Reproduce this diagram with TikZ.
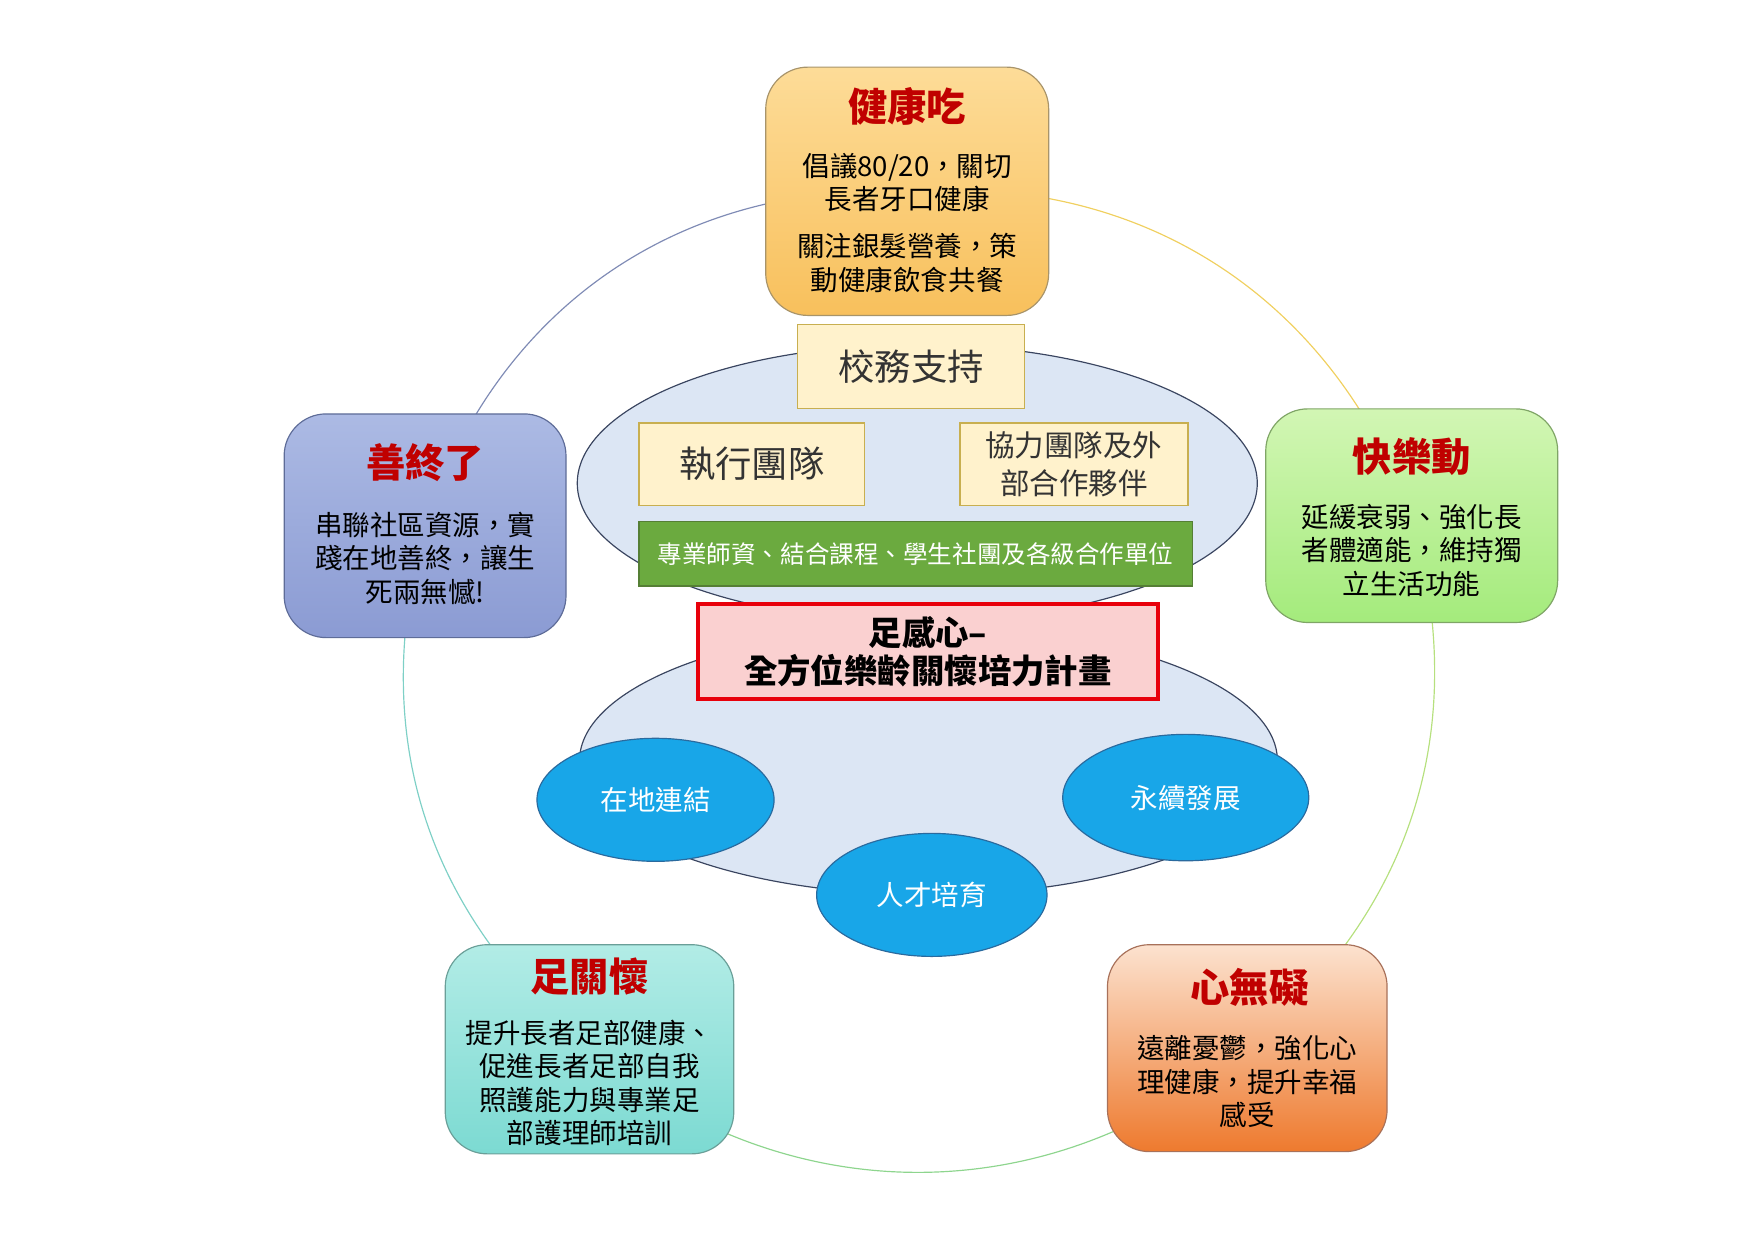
\documentclass[tikz,border=0pt]{standalone}
\usepackage{fontspec}
\setmainfont{Noto Sans CJK TC}
\usetikzlibrary{shapes.geometric,backgrounds}
\definecolor{titleRed}{HTML}{C00000}
\definecolor{eatTop}{HTML}{FDDC98}
\definecolor{eatBottom}{HTML}{F8C05C}
\definecolor{eatEdge}{HTML}{A8946A}
\definecolor{moveTop}{HTML}{D2F6B4}
\definecolor{moveBottom}{HTML}{A4EB7C}
\definecolor{moveEdge}{HTML}{7FA566}
\definecolor{farewellTop}{HTML}{ACBAE4}
\definecolor{farewellBottom}{HTML}{8B9BD3}
\definecolor{farewellEdge}{HTML}{5E6C98}
\definecolor{footTop}{HTML}{B2ECE6}
\definecolor{footBottom}{HTML}{7CDAD2}
\definecolor{footEdge}{HTML}{6A9F98}
\definecolor{mindTop}{HTML}{FCE2CF}
\definecolor{mindBottom}{HTML}{EE7A2E}
\definecolor{mindEdge}{HTML}{A8715A}
\definecolor{ringFill}{HTML}{DCE6F4}
\definecolor{ringEdge}{HTML}{3A4560}
\definecolor{tagFill}{HTML}{FFF2CC}
\definecolor{tagEdge}{HTML}{C8AF50}
\definecolor{barFill}{HTML}{6BAA3F}
\definecolor{barEdge}{HTML}{557F35}
\definecolor{planFill}{HTML}{FAD0D0}
\definecolor{planEdge}{HTML}{E8000B}
\definecolor{bubbleFill}{HTML}{18A6E8}
\definecolor{bubbleEdge}{HTML}{2A6A9E}
\definecolor{arcGold}{HTML}{F0D060}
\definecolor{arcLime}{HTML}{B6E07E}
\definecolor{arcGreen}{HTML}{8ED58E}
\definecolor{arcTeal}{HTML}{7ED0C6}
\definecolor{arcSlate}{HTML}{7F8BB5}
\begin{document}
\begin{tikzpicture}
[x=0.02cm,y=-0.02cm,
  lineDecorate/.style={-,line width=0.6pt},%
  cardDecorate/.style={rectangle,rounded corners=0.75cm,line width=0.6pt,inner sep=0pt},%
  eatShade/.style={top color=eatTop,bottom color=eatBottom,draw=eatEdge},%
  moveShade/.style={top color=moveTop,bottom color=moveBottom,draw=moveEdge},%
  farewellShade/.style={top color=farewellTop,bottom color=farewellBottom,draw=farewellEdge},%
  footShade/.style={top color=footTop,bottom color=footBottom,draw=footEdge},%
  mindShade/.style={top color=mindTop,bottom color=mindBottom,draw=mindEdge},%
  titleDecorate/.style={font=\fontsize{20}{24}\selectfont\bfseries,text=titleRed,inner sep=0pt},%
  bodyDecorate/.style={font=\fontsize{14}{17}\selectfont,align=center,inner sep=0pt},%
  ringDecorate/.style={ellipse,draw=ringEdge,fill=ringFill,line width=0.6pt,inner sep=0pt},%
  tagDecorate/.style={rectangle,draw=tagEdge,fill=tagFill,line width=0.8pt,inner sep=0pt,align=center,text=black!80},%
  bubbleDecorate/.style={ellipse,draw=bubbleEdge,fill=bubbleFill,line width=0.6pt,inner sep=0pt,text=white,font=\fontsize{14}{17}\selectfont}]
\useasboundingbox (0,0) rectangle (1568,1108);
%% cards
\foreach \cardname/\x/\y/\w/\h/\shade in {
  eat/811/171/5.06/4.44/eatShade, move/1262/461/5.22/3.82/moveShade,
  farewell/380/470/5.04/4.0/farewellShade, foot/527/938/5.16/3.74/footShade,
  mind/1115/937/5.0/3.7/mindShade}
{
  \node (\cardname) at (\x,\y) [cardDecorate,\shade,minimum width=\w cm,minimum height=\h cm] {};
}
\foreach \cardname/\x/\y/\title in {
  eat/811/95/健康吃, move/1262/408/快樂動, farewell/380/414/善終了,
  foot/527/873/足關懷, mind/1117/883/心無礙}
{
  \node (\cardname T) at (\x,\y) [titleDecorate] {\title};
}
\node (eatB) at (811,199) [bodyDecorate] {倡議80/20，關切\\長者牙口健康\\[7pt]關注銀髮營養，策\\動健康飲食共餐};
\node (moveB) at (1262,492) [bodyDecorate] {延緩衰弱、強化長\\者體適能，維持獨\\立生活功能};
\node (farewellB) at (380,499) [bodyDecorate] {串聯社區資源，實\\踐在地善終，讓生\\死兩無憾!};
\node (footB) at (527,968) [bodyDecorate] {提升長者足部健康、\\促進長者足部自我\\照護能力與專業足\\部護理師培訓};
\node (mindB) at (1115,967) [bodyDecorate] {遠離憂鬱，強化心\\理健康，提升幸福\\感受};
%% centre
\node (lowerRing) at (830,680) [ringDecorate,minimum width=12.48cm,minimum height=4.8cm] {};
\node (upperRing) at (820,432) [ringDecorate,minimum width=12.16cm,minimum height=4.96cm] {};
\node (school) at (814.5,327.5) [tagDecorate,minimum width=4.06cm,minimum height=1.5cm,font=\fontsize{18.5}{22}\selectfont] {校務支持};
\node (team) at (672,415) [tagDecorate,minimum width=4.04cm,minimum height=1.48cm,font=\fontsize{18.5}{22}\selectfont] {執行團隊};
\node (partner) at (960,415) [tagDecorate,minimum width=4.08cm,minimum height=1.48cm,font=\fontsize{15}{19.3}\selectfont] {協力團隊及外\\部合作夥伴};
\node (resource) at (818.5,495) [rectangle,draw=barEdge,fill=barFill,line width=0.8pt,text=white,minimum width=9.9cm,minimum height=1.16cm,font=\fontsize{12.5}{15}\selectfont] {專業師資、結合課程、學生社團及各級合作單位};
\node (plan) at (829.5,582.5) [rectangle,draw=planEdge,fill=planFill,line width=2pt,minimum width=8.22cm,minimum height=1.7cm,align=center,font=\fontsize{17}{19.5}\selectfont\bfseries] {足感心–\\全方位樂齡關懷培力計畫};
\foreach \nodename/\x/\y/\w/\h/\caption in {
  local/586/715/4.24/2.2/在地連結, talent/833/800/4.12/2.2/人才培育,
  future/1060/713/4.4/2.26/永續發展}
{
  \node (\nodename) at (\x,\y) [bubbleDecorate,minimum width=\w cm,minimum height=\h cm] {\caption};
}
%% cycle arcs
\begin{scope}[on background layer]
\path
\foreach \startnode/\endnode/\arccolor/\bendangle in {
  eat/move/arcGold/37, move/mind/arcLime/33, mind/foot/arcGreen/40,
  foot/farewell/arcTeal/33, farewell/eat/arcSlate/37}
{
  (\startnode.center) edge[lineDecorate,draw=\arccolor,bend left=\bendangle] (\endnode.center)
};
\end{scope}
\end{tikzpicture}
\end{document}
